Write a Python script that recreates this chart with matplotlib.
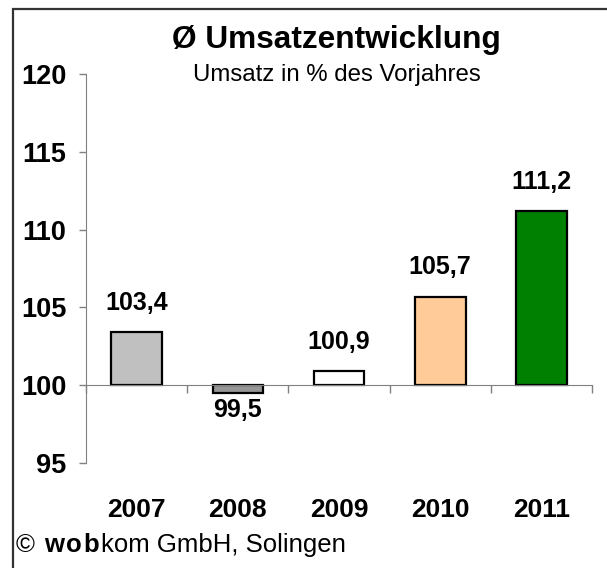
import matplotlib
matplotlib.use('Agg')
import matplotlib.pyplot as plt
from matplotlib.patches import Rectangle

plt.rcParams['font.family'] = ['Liberation Sans', 'DejaVu Sans']

# Daten
jahre = ['2007', '2008', '2009', '2010', '2011']
umsatz = [103.4, 99.5, 100.9, 105.7, 111.2]
labels = ['103,4', '99,5', '100,9', '105,7', '111,2']
farben = ['#C0C0C0', '#969696', '#FFFFFF', '#FFCC99', '#008000']
y_ticks = [95, 100, 105, 110, 115, 120]
basis = 100

fig = plt.figure(figsize=(6.07, 5.68), dpi=100)
ax = fig.add_axes([86 / 607, 1 - 463 / 568, 506 / 607, 389 / 568])

x = list(range(len(jahre)))
hoehen = [u - basis for u in umsatz]
ax.bar(x, hoehen, bottom=basis, width=0.5, color=farben,
       edgecolor='black', linewidth=1.6, zorder=3)

ax.set_xlim(-0.5, len(jahre) - 0.5)
ax.set_ylim(95, 120)

# Achsen
for s in ['top', 'right']:
    ax.spines[s].set_visible(False)
ax.spines['bottom'].set_position(('data', basis))
ax.spines['bottom'].set_color('#808080')
ax.spines['left'].set_color('#808080')
ax.spines['bottom'].set_zorder(4)

ax.set_yticks(y_ticks)
ax.set_yticklabels([str(t) for t in y_ticks], fontsize=19.5, fontweight='bold')
ax.tick_params(axis='y', length=5, width=1, color='#808080', pad=9)

ax.set_xticks([i - 0.5 for i in range(len(jahre) + 1)])
ax.set_xticklabels([])
ax.tick_params(axis='x', direction='out', length=6, width=1, color='#808080')

# Jahresbeschriftungen
for i, j in enumerate(jahre):
    ax.text(i, 92, j, ha='center', va='center', fontsize=19,
            fontweight='bold', clip_on=False)

# Wertbeschriftungen
for i, (u, lab) in enumerate(zip(umsatz, labels)):
    off = 21 if u >= basis else -12
    ax.annotate(lab, (i, u), xytext=(0, off), textcoords='offset points',
                ha='center', va='center', fontsize=18, fontweight='bold')

# Titel
fig.text(336 / 607, 1 - 40 / 568, 'Ø Umsatzentwicklung', ha='center', va='center',
         fontsize=22.8, fontweight='bold')
fig.text(337 / 607, 1 - 75 / 568, 'Umsatz in % des Vorjahres', ha='center', va='center',
         fontsize=17.3)

# Rahmen
fig.patches.append(Rectangle((13 / 607, -0.1), 1.2, 1.1 - 9 / 568,
                             transform=fig.transFigure, fill=False,
                             edgecolor='#333333', linewidth=1.6))

# Copyright-Zeile (wob fett und gesperrt)
fig.canvas.draw()
r = fig.canvas.get_renderer()
y_f = 1 - 545 / 568
t = fig.text(16 / 607, y_f, '© ', ha='left', va='center', fontsize=18.5)
x_pos = t.get_window_extent(r).x1 + 2
for ch in 'wob':
    t = fig.text(x_pos / 607, y_f, ch, ha='left', va='center', fontsize=18.5,
                 fontweight='bold')
    x_pos = t.get_window_extent(r).x1 + 2
fig.text(x_pos / 607, y_f, 'kom GmbH, Solingen', ha='left', va='center', fontsize=18.5)

fig.savefig('out.png', dpi=100)
